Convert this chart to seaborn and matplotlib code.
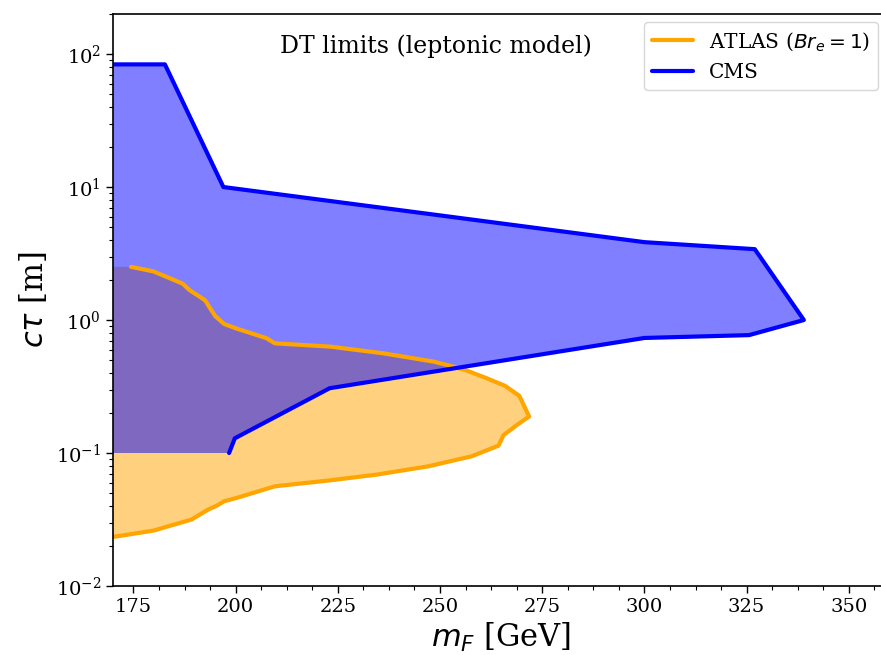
import numpy as np
import pandas as pd
import matplotlib
matplotlib.use("Agg")
import matplotlib.pyplot as plt
import seaborn as sns

# CMS DT limit contour (m_F in GeV, c*tau in m)
cms_mass = [165, 182.7, 197, 300, 327, 339, 325.6, 300, 223, 199.8, 198.4]
cms_ctau = [83.6, 83.6, 10.0, 3.85, 3.41, 1.0, 0.77, 0.733, 0.307, 0.129, 0.1]

# ATLAS contour (Br_e = 1)
atlas_mass = [174.4, 179.9, 183.1, 187.0, 188.7, 192.5, 195.0, 197.2, 200.3, 207.6,
              209.6, 223.1, 236.1, 248.4, 253.2, 256.5, 261.4, 265.9, 269.4, 271.8,
              269.1, 265.5, 264.3, 257.7, 247.1, 234.5, 223.1, 209.6, 200.3, 197.2,
              195.4, 193.3, 189.2, 179.9, 170.1, 165.0]
atlas_ctau = [2.51, 2.32, 2.11, 1.88, 1.68, 1.41, 1.07, 0.933, 0.861, 0.729,
              0.668, 0.631, 0.562, 0.487, 0.447, 0.417, 0.365, 0.320, 0.269, 0.188,
              0.165, 0.136, 0.1135, 0.0944, 0.0794, 0.0688, 0.0623, 0.0562, 0.0460, 0.0434,
              0.0402, 0.0376, 0.0316, 0.0261, 0.0234, 0.0222]

sns.set_style("ticks")
plt.rcParams["font.family"] = ["DejaVu Serif"]
plt.rcParams["mathtext.fontset"] = "dejavusans"
plt.rcParams["axes.edgecolor"] = "black"
plt.rcParams["xtick.color"] = "black"
plt.rcParams["ytick.color"] = "black"
plt.rcParams["axes.labelcolor"] = "black"
plt.rcParams["text.color"] = "black"

fig = plt.figure(figsize=(8.81, 6.55), dpi=100)
ax = fig.add_axes([113 / 881, 1 - 586 / 655, 776.7 / 881, 572 / 655])

df_cms = pd.DataFrame({"m": cms_mass, "ctau": cms_ctau})
df_atlas = pd.DataFrame({"m": atlas_mass, "ctau": atlas_ctau})

# filled areas: atlas first, then cms on top (gives the purple overlap)
ax.fill(atlas_mass + [165.0], atlas_ctau + [2.51], color="orange", alpha=0.5, lw=0)
ax.fill(cms_mass + [165.0], cms_ctau + [0.1], color="blue", alpha=0.5, lw=0)

sns.lineplot(data=df_atlas, x="m", y="ctau", sort=False, estimator=None,
             color="orange", lw=3, ax=ax, label=r"ATLAS ($Br_e=1$)")
sns.lineplot(data=df_cms, x="m", y="ctau", sort=False, estimator=None,
             color="blue", lw=3, ax=ax, label="CMS")

ax.set_yscale("log")
ax.set_xlim(170, 360)
ax.set_ylim(1e-2, 2e2)
ax.set_xticks([175, 200, 225, 250, 275, 300, 325, 350])
ax.xaxis.set_minor_locator(matplotlib.ticker.AutoMinorLocator(4))
ax.tick_params(axis="both", which="major", labelsize=14, length=5, width=1)
ax.tick_params(axis="both", which="minor", length=3, width=0.8)
for s in ax.spines.values():
    s.set_linewidth(1.2)

ax.set_xlabel(r"$m_F$ [GeV]", fontsize=22)
ax.set_ylabel(r"$c\tau$ [m]", fontsize=22)

ax.text(249, 115, "DT limits (leptonic model)", fontsize=17, ha="center", va="center")

ax.legend(loc="upper right", bbox_to_anchor=(878 / 881, 1 - 22 / 655),
          bbox_transform=fig.transFigure, borderaxespad=0, fontsize=14.5,
          frameon=True)

fig.savefig("out.png", dpi=100)
